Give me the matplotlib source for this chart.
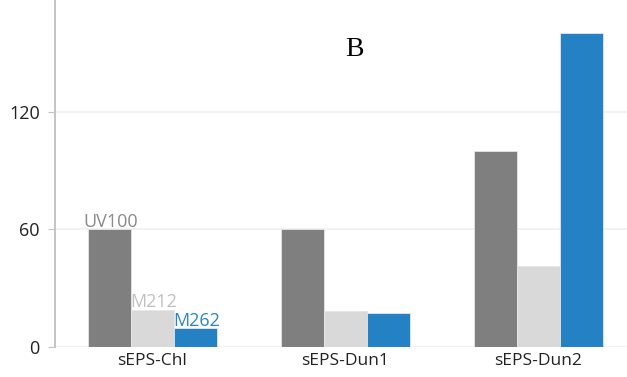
import matplotlib
matplotlib.use("Agg")
import matplotlib.pyplot as plt
import numpy as np

# data
categories = ["sEPS-Chl", "sEPS-Dun1", "sEPS-Dun2"]
series_names = ["UV100", "M212", "M262"]
uv100 = [60, 60, 100]
m212 = [19, 18.5, 41.5]
m262 = [9.5, 17.5, 160]
y_ticks = [0, 60, 120]

bar_colors = ["#7f7f7f", "#d9d9d9", "#2481c3"]
label_colors = ["#8a8a8a", "#c0c0c0", "#2a86c8"]

plt.rcParams["font.family"] = ["Open Sans", "DejaVu Sans"]

fig = plt.figure(figsize=(6.27, 3.77), dpi=100)
ax = fig.add_axes([55 / 627, 30 / 377, 1 - 55 / 627, 1 - 30 / 377])

x = np.arange(len(categories))
width = 0.223
values = [uv100, m212, m262]
for i, (vals, color) in enumerate(zip(values, bar_colors)):
    ax.bar(x + (i - 1) * width, vals, width, color=color,
           edgecolor="#e6e6e6", linewidth=0.6, zorder=3)
    # series name over the first group only
    ax.annotate(series_names[i], (x[0] + (i - 1) * width, vals[0]),
                xytext=(1, 2), textcoords="offset points",
                ha="center", va="baseline", fontsize=13,
                color=label_colors[i], zorder=4)

ax.text(1.05, 152, "B", family=["Liberation Serif", "DejaVu Serif"],
        fontsize=20, ha="center", va="center", color="black")

ax.set_xlim(-0.503, 2.46)
ax.set_ylim(0, 177)
ax.set_xticks(x)
ax.set_xticklabels(categories, fontsize=12.5, color="#222222")
ax.set_yticks(y_ticks)
ax.set_yticklabels([str(t) for t in y_ticks], fontsize=13, color="#222222")

ax.yaxis.grid(True, color="#f0f0f0", linewidth=1.2, zorder=0)
ax.set_axisbelow(True)
for side in ["top", "right", "bottom"]:
    ax.spines[side].set_visible(False)
ax.spines["left"].set_color("#c4c4c4")
ax.spines["left"].set_linewidth(1.4)
ax.tick_params(axis="y", length=5, color="#c4c4c4", pad=6)
ax.tick_params(axis="x", length=0, pad=4)

fig.savefig("out.png", dpi=100)
